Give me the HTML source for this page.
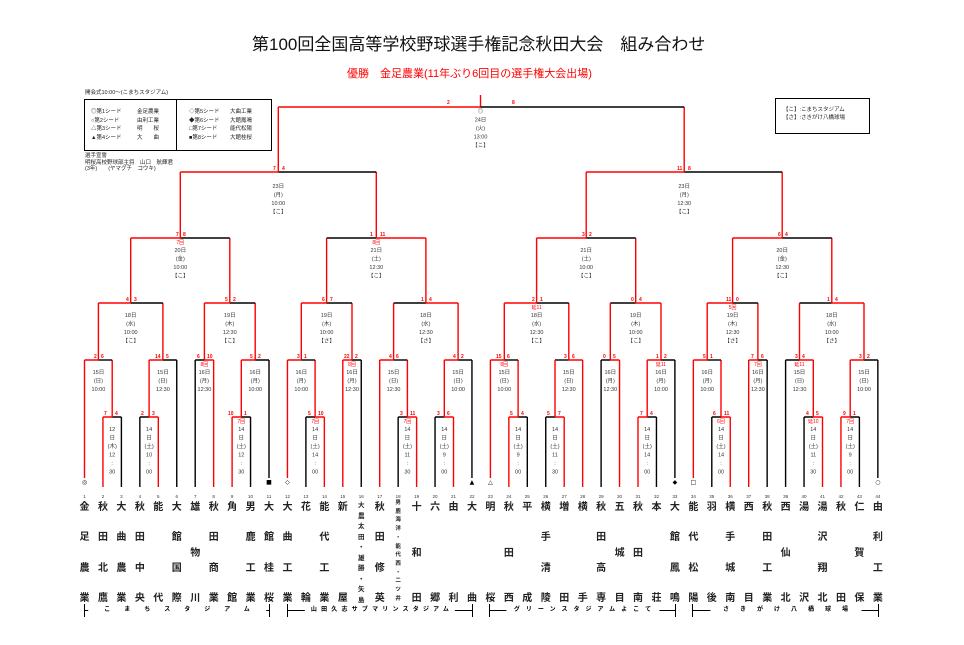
<!DOCTYPE html>
<html><head><meta charset="utf-8">
<style>
html,body{margin:0;padding:0;background:#fff;}
body{width:964px;height:645px;position:relative;overflow:hidden;font-family:"Liberation Sans","Noto Sans CJK JP",sans-serif;}
svg{position:absolute;left:0;top:0;}
.r{stroke:#f00;stroke-width:1.4;fill:none}
.k{stroke:#000;stroke-width:1.4;fill:none}
.d{font-size:5.5px;fill:#333;text-anchor:middle;font-family:"Liberation Sans","Noto Sans CJK JP",sans-serif}
.s{font-size:5px;fill:#f00;font-weight:bold;font-family:"Liberation Sans",sans-serif}
.n{font-size:4.5px;fill:#333;text-anchor:middle;font-family:"Liberation Sans",sans-serif}
.i{font-size:5px;fill:#f00;text-anchor:middle;font-family:"Liberation Sans","Noto Sans CJK JP",sans-serif}
.tm{position:absolute;top:503px;width:14px;height:101px;display:flex;flex-direction:column;justify-content:space-between;align-items:center;font-size:10px;line-height:10px;font-weight:bold;color:#222;}
.tm.sm{font-size:6.5px;line-height:7px;top:502px;height:102px}
.tm.xs{font-size:5.5px;line-height:6px;top:500px;height:102px}
.st{position:absolute;top:604px;height:13px;border-left:1px solid #000;border-right:1px solid #000;}
.st:before{content:"";position:absolute;left:0;right:0;top:6px;border-top:1px solid #000;}
.st span{position:absolute;left:50%;transform:translateX(-50%);top:2px;background:#fff;font-size:6px;line-height:9px;font-weight:bold;white-space:nowrap;padding:0 2px;}
.lg{position:absolute;font-size:5.5px;line-height:6px;color:#222;white-space:nowrap}
</style></head><body>

<div style="position:absolute;left:252px;top:35px;font-size:17px;line-height:20px;color:#111;white-space:nowrap">第100回全国高等学校野球選手権記念秋田大会　組み合わせ</div>
<div style="position:absolute;left:347px;top:68px;font-size:11px;line-height:13px;color:#f00;white-space:nowrap">優勝　金足農業(11年ぶり6回目の選手権大会出場)</div>

<div class="lg" style="left:85px;top:90px">開会式10:00～(こまちスタジアム)</div>
<div style="position:absolute;left:84px;top:99px;width:186px;height:50px;border:1px solid #000"></div>
<div style="position:absolute;left:176px;top:99px;height:51px;border-left:1px solid #000"></div>
<div class="lg" style="left:91px;top:108px;line-height:8.7px">◎第1シード<br>○第2シード<br>△第3シード<br>▲第4シード</div>
<div class="lg" style="left:137px;top:108px;line-height:8.7px">金足農業<br>由利工業<br>明　　桜<br>大　　曲</div>
<div class="lg" style="left:189px;top:108px;line-height:8.7px">◇第5シード<br>◆第6シード<br>□第7シード<br>■第8シード</div>
<div class="lg" style="left:230px;top:108px;line-height:8.7px">大曲工業<br>大館鳳鳴<br>能代松陽<br>大館桂桜</div>
<div class="lg" style="left:85px;top:153px;line-height:6.5px">選手宣誓<br>明桜高校野球部主将　山口　航輝君<br>(3年)　　(ヤマグチ　コウキ)</div>

<div style="position:absolute;left:775px;top:98px;width:93px;height:34px;border:1px solid #000"></div>
<div class="lg" style="left:783px;top:106px;line-height:8px">【こ】:こまちスタジアム<br>【さ】:さきがけ八橋球場</div>

<svg width="964" height="645" viewBox="0 0 964 645">
<!-- R1 -->
<path class="r" d="M102.95 417H112.2M102.95 417V487"/><path class="k" d="M112.2 417H121.4M121.4 417V487"/>
<path class="k" d="M139.85 417H149.1M139.85 417V487"/><path class="r" d="M149.1 417H158.3M158.3 417V487"/>
<path class="r" d="M232.1 417H241.3M232.1 417V487"/><path class="k" d="M241.3 417H250.55M250.55 417V487"/>
<path class="k" d="M305.9 417H315.1M305.9 417V487"/><path class="r" d="M315.1 417H324.35M324.35 417V487"/>
<path class="k" d="M398.15 417H407.4M398.15 417V487"/><path class="r" d="M407.4 417H416.6M416.6 417V487"/>
<path class="k" d="M435.05 417H444.3M435.05 417V487"/><path class="r" d="M444.3 417H453.5M453.5 417V487"/>
<path class="r" d="M508.85 417H518.1M508.85 417V487"/><path class="k" d="M518.1 417H527.3M527.3 417V487"/>
<path class="k" d="M545.75 417H555M545.75 417V487"/><path class="r" d="M555 417H564.2M564.2 417V487"/>
<path class="r" d="M638 417H647.2M638 417V487"/><path class="k" d="M647.2 417H656.45M656.45 417V487"/>
<path class="k" d="M711.8 417H721M711.8 417V487"/><path class="r" d="M721 417H730.25M730.25 417V487"/>
<path class="k" d="M804.05 417H813.3M804.05 417V487"/><path class="r" d="M813.3 417H822.5M822.5 417V487"/>
<path class="r" d="M840.95 417H850.2M840.95 417V487"/><path class="k" d="M850.2 417H859.4M859.4 417V487"/>
<!-- R2 -->
<path class="r" d="M84.5 360H98.4M84.5 360V478M112.2 360V417"/><path class="k" d="M98.4 360H112.2"/>
<path class="r" d="M149.1 360H162.9M149.1 360V417"/><path class="k" d="M162.9 360H176.75M176.75 360V487"/>
<path class="k" d="M195.2 360H204.4M195.2 360V487"/><path class="r" d="M204.4 360H213.65M213.65 360V487"/>
<path class="r" d="M241.3 360H255.2M241.3 360V417"/><path class="k" d="M255.2 360H269M269 360V478"/>
<path class="r" d="M287.45 360H301.3M287.45 360V478M315.1 360V417"/><path class="k" d="M301.3 360H315.1"/>
<path class="r" d="M342.8 360H352M342.8 360V487"/><path class="k" d="M352 360H361.25M361.25 360V487"/>
<path class="r" d="M379.7 360H393.6M379.7 360V487M407.4 360V417"/><path class="k" d="M393.6 360H407.4"/>
<path class="r" d="M444.3 360H458.1M444.3 360V417"/><path class="k" d="M458.1 360H471.95M471.95 360V478"/>
<path class="r" d="M490.4 360H504.3M490.4 360V478M518.1 360V417"/><path class="k" d="M504.3 360H518.1"/>
<path class="k" d="M555 360H568.8"/><path class="r" d="M555 360V417M568.8 360H582.65M582.65 360V487"/>
<path class="k" d="M601.1 360H610.3M601.1 360V487"/><path class="r" d="M610.3 360H619.55M619.55 360V487"/>
<path class="r" d="M647.2 360H661M647.2 360V417"/><path class="k" d="M661 360H674.9M674.9 360V478"/>
<path class="r" d="M693.35 360H707.2M693.35 360V478M721 360V417"/><path class="k" d="M707.2 360H721"/>
<path class="r" d="M748.7 360H757.9M748.7 360V487"/><path class="k" d="M757.9 360H767.15M767.15 360V487"/>
<path class="k" d="M785.6 360H799.5M785.6 360V487"/><path class="r" d="M799.5 360H813.3M813.3 360V417"/>
<path class="r" d="M850.2 360H864M850.2 360V417"/><path class="k" d="M864 360H877.85M877.85 360V478"/>
<!-- R3 -->
<path class="r" d="M98.4 303H130.7M98.4 303V360M162.9 303V360"/><path class="k" d="M130.7 303H162.9"/>
<path class="r" d="M204.4 303H229.8M204.4 303V360M255.2 303V360"/><path class="k" d="M229.8 303H255.2"/>
<path class="r" d="M301.3 303H326.6M301.3 303V360M352 303V360"/><path class="k" d="M326.6 303H352"/>
<path class="k" d="M393.6 303H425.9"/><path class="r" d="M425.9 303H458.1M393.6 303V360M458.1 303V360"/>
<path class="r" d="M504.3 303H536.6M504.3 303V360M568.8 303V360"/><path class="k" d="M536.6 303H568.8"/>
<path class="k" d="M610.3 303H635.7"/><path class="r" d="M635.7 303H661M610.3 303V360M661 303V360"/>
<path class="r" d="M707.2 303H732.6M707.2 303V360M757.9 303V360"/><path class="k" d="M732.6 303H757.9"/>
<path class="k" d="M799.5 303H831.8"/><path class="r" d="M831.8 303H864M799.5 303V360M864 303V360"/>
<!-- R4 -->
<path class="r" d="M130.7 238H180.3M130.7 238V303M229.8 238V303"/><path class="k" d="M180.3 238H229.8"/>
<path class="k" d="M326.6 238H376.3"/><path class="r" d="M376.3 238H425.9M326.6 238V303M425.9 238V303"/>
<path class="r" d="M536.6 238H586.2M536.6 238V303M635.7 238V303"/><path class="k" d="M586.2 238H635.7"/>
<path class="r" d="M732.6 238H782.2M732.6 238V303M831.8 238V303"/><path class="k" d="M782.2 238H831.8"/>
<!-- Semi -->
<path class="r" d="M180.3 172H278.3M180.3 172V238M376.3 172V238"/><path class="k" d="M278.3 172H376.3"/>
<path class="r" d="M586.2 172H684.2M586.2 172V238M782.2 172V238"/><path class="k" d="M684.2 172H782.2"/>
<!-- Final -->
<path class="r" d="M278.3 107H480.5M278.3 107V172M684.2 107V172M480.5 95V107"/><path class="k" d="M480.5 107H684.2"/>

<!-- seed symbols -->
<g font-size="6" text-anchor="middle" font-family="DejaVu Sans,sans-serif">
<text x="84.5" y="484">◎</text><text x="269" y="484">■</text><text x="287.45" y="484">◇</text><text x="471.95" y="484">▲</text>
<text x="490.4" y="484">△</text><text x="674.9" y="484">◆</text><text x="693.35" y="484">□</text><text x="877.85" y="484">○</text>
</g>

<!-- scores -->
<g class="s">
<text x="104" y="415">7</text><text x="115" y="415">4</text>
<text x="141" y="415">2</text><text x="152" y="415">3</text>
<text x="228" y="415">10</text><text x="244" y="415">1</text>
<text x="308" y="415">5</text><text x="318" y="415">10</text>
<text x="400" y="415">3</text><text x="410" y="415">11</text>
<text x="437" y="415">3</text><text x="447" y="415">6</text>
<text x="510" y="415">5</text><text x="521" y="415">4</text>
<text x="547" y="415">5</text><text x="558" y="415">7</text>
<text x="640" y="415">7</text><text x="650" y="415">4</text>
<text x="713" y="415">6</text><text x="724" y="415">11</text>
<text x="806" y="415">4</text><text x="816" y="415">5</text>
<text x="843" y="415">9</text><text x="853" y="415">1</text>
<text x="94" y="358">2</text><text x="101" y="358">6</text>
<text x="155" y="358">14</text><text x="166" y="358">5</text>
<text x="197" y="358">6</text><text x="207" y="358">10</text>
<text x="250" y="358">5</text><text x="258" y="358">2</text>
<text x="297" y="358">3</text><text x="304" y="358">1</text>
<text x="344" y="358">22</text><text x="355" y="358">2</text>
<text x="389" y="358">4</text><text x="396" y="358">6</text>
<text x="453" y="358">4</text><text x="461" y="358">2</text>
<text x="496" y="358">15</text><text x="507" y="358">6</text>
<text x="564" y="358">3</text><text x="572" y="358">6</text>
<text x="603" y="358">0</text><text x="613" y="358">5</text>
<text x="656" y="358">1</text><text x="664" y="358">2</text>
<text x="703" y="358">5</text><text x="710" y="358">1</text>
<text x="751" y="358">7</text><text x="761" y="358">6</text>
<text x="795" y="358">3</text><text x="802" y="358">4</text>
<text x="859" y="358">3</text><text x="867" y="358">2</text>
<text x="126" y="301">4</text><text x="134" y="301">3</text>
<text x="225" y="301">5</text><text x="233" y="301">2</text>
<text x="322" y="301">6</text><text x="330" y="301">7</text>
<text x="421" y="301">1</text><text x="429" y="301">4</text>
<text x="532" y="301">2</text><text x="540" y="301">1</text>
<text x="631" y="301">0</text><text x="639" y="301">4</text>
<text x="726" y="301">11</text><text x="736" y="301">0</text>
<text x="827" y="301">1</text><text x="835" y="301">4</text>
<text x="176" y="236">7</text><text x="183" y="236">8</text>
<text x="370" y="236">1</text><text x="380" y="236">11</text>
<text x="582" y="236">3</text><text x="589" y="236">2</text>
<text x="778" y="236">6</text><text x="785" y="236">4</text>
<text x="273" y="170">7</text><text x="282" y="170">4</text>
<text x="677" y="170">11</text><text x="688" y="170">8</text>
<text x="447" y="104">2</text><text x="512" y="104">8</text>
</g>

<!-- inning notes -->
<g class="i">
<text x="241.3" y="423">7回</text><text x="315.1" y="423">7回</text><text x="407.4" y="423">7回</text>
<text x="721" y="423">6回</text><text x="813.3" y="423">延10</text><text x="850.2" y="423">7回</text>
<text x="204.4" y="366">8回</text><text x="352" y="366">8回</text><text x="504.3" y="366">8回</text>
<text x="661" y="366">延11</text><text x="757.9" y="366">7回</text><text x="799.5" y="366">延11</text>
<text x="536.6" y="309">延11</text><text x="732.6" y="309">5回</text>
<text x="180.3" y="244">7回</text><text x="376.3" y="244">8回</text>
</g>

<!-- R1 date blocks -->
<g class="d">
<text><tspan x="112.2" y="431">12</tspan><tspan x="112.2" y="439.5">日</tspan><tspan x="112.2" y="448">(木)</tspan><tspan x="112.2" y="456.5">12</tspan><tspan x="112.2" y="465">:</tspan><tspan x="112.2" y="473.5">30</tspan></text>
<text><tspan x="149.1" y="431">14</tspan><tspan x="149.1" y="439.5">日</tspan><tspan x="149.1" y="448">(土)</tspan><tspan x="149.1" y="456.5">10</tspan><tspan x="149.1" y="465">:</tspan><tspan x="149.1" y="473.5">00</tspan></text>
<text><tspan x="241.3" y="431">14</tspan><tspan x="241.3" y="439.5">日</tspan><tspan x="241.3" y="448">(土)</tspan><tspan x="241.3" y="456.5">12</tspan><tspan x="241.3" y="465">:</tspan><tspan x="241.3" y="473.5">30</tspan></text>
<text><tspan x="315.1" y="431">14</tspan><tspan x="315.1" y="439.5">日</tspan><tspan x="315.1" y="448">(土)</tspan><tspan x="315.1" y="456.5">14</tspan><tspan x="315.1" y="465">:</tspan><tspan x="315.1" y="473.5">00</tspan></text>
<text><tspan x="407.4" y="431">14</tspan><tspan x="407.4" y="439.5">日</tspan><tspan x="407.4" y="448">(土)</tspan><tspan x="407.4" y="456.5">11</tspan><tspan x="407.4" y="465">:</tspan><tspan x="407.4" y="473.5">30</tspan></text>
<text><tspan x="444.3" y="431">14</tspan><tspan x="444.3" y="439.5">日</tspan><tspan x="444.3" y="448">(土)</tspan><tspan x="444.3" y="456.5">9</tspan><tspan x="444.3" y="465">:</tspan><tspan x="444.3" y="473.5">00</tspan></text>
<text><tspan x="518.1" y="431">14</tspan><tspan x="518.1" y="439.5">日</tspan><tspan x="518.1" y="448">(土)</tspan><tspan x="518.1" y="456.5">9</tspan><tspan x="518.1" y="465">:</tspan><tspan x="518.1" y="473.5">00</tspan></text>
<text><tspan x="555" y="431">14</tspan><tspan x="555" y="439.5">日</tspan><tspan x="555" y="448">(土)</tspan><tspan x="555" y="456.5">11</tspan><tspan x="555" y="465">:</tspan><tspan x="555" y="473.5">30</tspan></text>
<text><tspan x="647.2" y="431">14</tspan><tspan x="647.2" y="439.5">日</tspan><tspan x="647.2" y="448">(土)</tspan><tspan x="647.2" y="456.5">14</tspan><tspan x="647.2" y="465">:</tspan><tspan x="647.2" y="473.5">00</tspan></text>
<text><tspan x="721" y="431">14</tspan><tspan x="721" y="439.5">日</tspan><tspan x="721" y="448">(土)</tspan><tspan x="721" y="456.5">14</tspan><tspan x="721" y="465">:</tspan><tspan x="721" y="473.5">00</tspan></text>
<text><tspan x="813.3" y="431">14</tspan><tspan x="813.3" y="439.5">日</tspan><tspan x="813.3" y="448">(土)</tspan><tspan x="813.3" y="456.5">11</tspan><tspan x="813.3" y="465">:</tspan><tspan x="813.3" y="473.5">30</tspan></text>
<text><tspan x="850.2" y="431">14</tspan><tspan x="850.2" y="439.5">日</tspan><tspan x="850.2" y="448">(土)</tspan><tspan x="850.2" y="456.5">9</tspan><tspan x="850.2" y="465">:</tspan><tspan x="850.2" y="473.5">00</tspan></text>
<!-- R2 -->
<text><tspan x="98.4" y="374">15日</tspan><tspan x="98.4" y="382.5">(日)</tspan><tspan x="98.4" y="391">10:00</tspan></text>
<text><tspan x="162.9" y="374">15日</tspan><tspan x="162.9" y="382.5">(日)</tspan><tspan x="162.9" y="391">12:30</tspan></text>
<text><tspan x="204.4" y="374">16日</tspan><tspan x="204.4" y="382.5">(月)</tspan><tspan x="204.4" y="391">12:30</tspan></text>
<text><tspan x="255.2" y="374">16日</tspan><tspan x="255.2" y="382.5">(月)</tspan><tspan x="255.2" y="391">10:00</tspan></text>
<text><tspan x="301.3" y="374">16日</tspan><tspan x="301.3" y="382.5">(月)</tspan><tspan x="301.3" y="391">10:00</tspan></text>
<text><tspan x="352" y="374">16日</tspan><tspan x="352" y="382.5">(月)</tspan><tspan x="352" y="391">12:30</tspan></text>
<text><tspan x="393.6" y="374">15日</tspan><tspan x="393.6" y="382.5">(日)</tspan><tspan x="393.6" y="391">12:30</tspan></text>
<text><tspan x="458.1" y="374">15日</tspan><tspan x="458.1" y="382.5">(日)</tspan><tspan x="458.1" y="391">10:00</tspan></text>
<text><tspan x="504.3" y="374">15日</tspan><tspan x="504.3" y="382.5">(日)</tspan><tspan x="504.3" y="391">10:00</tspan></text>
<text><tspan x="568.8" y="374">15日</tspan><tspan x="568.8" y="382.5">(日)</tspan><tspan x="568.8" y="391">12:30</tspan></text>
<text><tspan x="610.3" y="374">16日</tspan><tspan x="610.3" y="382.5">(月)</tspan><tspan x="610.3" y="391">12:30</tspan></text>
<text><tspan x="661" y="374">16日</tspan><tspan x="661" y="382.5">(月)</tspan><tspan x="661" y="391">10:00</tspan></text>
<text><tspan x="707.2" y="374">16日</tspan><tspan x="707.2" y="382.5">(月)</tspan><tspan x="707.2" y="391">10:00</tspan></text>
<text><tspan x="757.9" y="374">16日</tspan><tspan x="757.9" y="382.5">(月)</tspan><tspan x="757.9" y="391">12:30</tspan></text>
<text><tspan x="799.5" y="374">15日</tspan><tspan x="799.5" y="382.5">(日)</tspan><tspan x="799.5" y="391">12:30</tspan></text>
<text><tspan x="864" y="374">15日</tspan><tspan x="864" y="382.5">(日)</tspan><tspan x="864" y="391">10:00</tspan></text>
<!-- R3 -->
<text><tspan x="130.7" y="317">18日</tspan><tspan x="130.7" y="325.5">(水)</tspan><tspan x="130.7" y="334">10:00</tspan><tspan x="130.7" y="342.5">【こ】</tspan></text>
<text><tspan x="229.8" y="317">19日</tspan><tspan x="229.8" y="325.5">(木)</tspan><tspan x="229.8" y="334">12:30</tspan><tspan x="229.8" y="342.5">【こ】</tspan></text>
<text><tspan x="326.6" y="317">19日</tspan><tspan x="326.6" y="325.5">(木)</tspan><tspan x="326.6" y="334">10:00</tspan><tspan x="326.6" y="342.5">【さ】</tspan></text>
<text><tspan x="425.9" y="317">18日</tspan><tspan x="425.9" y="325.5">(水)</tspan><tspan x="425.9" y="334">12:30</tspan><tspan x="425.9" y="342.5">【さ】</tspan></text>
<text><tspan x="536.6" y="317">18日</tspan><tspan x="536.6" y="325.5">(水)</tspan><tspan x="536.6" y="334">12:30</tspan><tspan x="536.6" y="342.5">【こ】</tspan></text>
<text><tspan x="635.7" y="317">19日</tspan><tspan x="635.7" y="325.5">(木)</tspan><tspan x="635.7" y="334">10:00</tspan><tspan x="635.7" y="342.5">【こ】</tspan></text>
<text><tspan x="732.6" y="317">19日</tspan><tspan x="732.6" y="325.5">(木)</tspan><tspan x="732.6" y="334">12:30</tspan><tspan x="732.6" y="342.5">【さ】</tspan></text>
<text><tspan x="831.8" y="317">18日</tspan><tspan x="831.8" y="325.5">(水)</tspan><tspan x="831.8" y="334">10:00</tspan><tspan x="831.8" y="342.5">【さ】</tspan></text>
<!-- R4 -->
<text><tspan x="180.3" y="252">20日</tspan><tspan x="180.3" y="260.5">(金)</tspan><tspan x="180.3" y="269">10:00</tspan><tspan x="180.3" y="277.5">【こ】</tspan></text>
<text><tspan x="376.3" y="252">21日</tspan><tspan x="376.3" y="260.5">(土)</tspan><tspan x="376.3" y="269">12:30</tspan><tspan x="376.3" y="277.5">【こ】</tspan></text>
<text><tspan x="586.2" y="252">21日</tspan><tspan x="586.2" y="260.5">(土)</tspan><tspan x="586.2" y="269">10:00</tspan><tspan x="586.2" y="277.5">【こ】</tspan></text>
<text><tspan x="782.2" y="252">20日</tspan><tspan x="782.2" y="260.5">(金)</tspan><tspan x="782.2" y="269">12:30</tspan><tspan x="782.2" y="277.5">【こ】</tspan></text>
<!-- Semi -->
<text><tspan x="278.3" y="188">23日</tspan><tspan x="278.3" y="196.5">(月)</tspan><tspan x="278.3" y="205">10:00</tspan><tspan x="278.3" y="213.5">【こ】</tspan></text>
<text><tspan x="684.2" y="188">23日</tspan><tspan x="684.2" y="196.5">(月)</tspan><tspan x="684.2" y="205">12:30</tspan><tspan x="684.2" y="213.5">【こ】</tspan></text>
<!-- Final -->
<text><tspan x="480.5" y="113">◎</tspan><tspan x="480.5" y="121.5">24日</tspan><tspan x="480.5" y="130">(火)</tspan><tspan x="480.5" y="138.5">13:00</tspan><tspan x="480.5" y="147">【こ】</tspan></text>
</g>

<!-- team numbers -->
<g class="n">
<text x="84.5" y="498">1</text><text x="102.95" y="498">2</text><text x="121.4" y="498">3</text><text x="139.85" y="498">4</text><text x="158.3" y="498">5</text><text x="176.75" y="498">6</text><text x="195.2" y="498">7</text><text x="213.65" y="498">8</text><text x="232.1" y="498">9</text><text x="250.55" y="498">10</text><text x="269" y="498">11</text>
<text x="287.45" y="498">12</text><text x="305.9" y="498">13</text><text x="324.35" y="498">14</text><text x="342.8" y="498">15</text><text x="361.25" y="498">16</text><text x="379.7" y="498">17</text><text x="398.15" y="498">18</text><text x="416.6" y="498">19</text><text x="435.05" y="498">20</text><text x="453.5" y="498">21</text><text x="471.95" y="498">22</text>
<text x="490.4" y="498">23</text><text x="508.85" y="498">24</text><text x="527.3" y="498">25</text><text x="545.75" y="498">26</text><text x="564.2" y="498">27</text><text x="582.65" y="498">28</text><text x="601.1" y="498">29</text><text x="619.55" y="498">30</text><text x="638" y="498">31</text><text x="656.45" y="498">32</text><text x="674.9" y="498">33</text>
<text x="693.35" y="498">34</text><text x="711.8" y="498">35</text><text x="730.25" y="498">36</text><text x="748.7" y="498">37</text><text x="767.15" y="498">38</text><text x="785.6" y="498">39</text><text x="804.05" y="498">40</text><text x="822.5" y="498">41</text><text x="840.95" y="498">42</text><text x="859.4" y="498">43</text><text x="877.85" y="498">44</text>
</g>
</svg>

<!-- team names -->
<div class="tm" style="left:77.5px"><span>金</span><span>足</span><span>農</span><span>業</span></div>
<div class="tm" style="left:96px"><span>秋</span><span>田</span><span>北</span><span>鷹</span></div>
<div class="tm" style="left:114.4px"><span>大</span><span>曲</span><span>農</span><span>業</span></div>
<div class="tm" style="left:132.9px"><span>秋</span><span>田</span><span>中</span><span>央</span></div>
<div class="tm" style="left:151.3px"><span>能</span><span>代</span></div>
<div class="tm" style="left:169.8px"><span>大</span><span>館</span><span>国</span><span>際</span></div>
<div class="tm" style="left:188.2px"><span>雄</span><span>物</span><span>川</span></div>
<div class="tm" style="left:206.7px"><span>秋</span><span>田</span><span>商</span><span>業</span></div>
<div class="tm" style="left:225.1px"><span>角</span><span>館</span></div>
<div class="tm" style="left:243.6px"><span>男</span><span>鹿</span><span>工</span><span>業</span></div>
<div class="tm" style="left:262px"><span>大</span><span>館</span><span>桂</span><span>桜</span></div>
<div class="tm" style="left:280.5px"><span>大</span><span>曲</span><span>工</span><span>業</span></div>
<div class="tm" style="left:298.9px"><span>花</span><span>輪</span></div>
<div class="tm" style="left:317.4px"><span>能</span><span>代</span><span>工</span><span>業</span></div>
<div class="tm" style="left:335.8px"><span>新</span><span>屋</span></div>
<div class="tm sm" style="left:354.3px"><span>大</span><span>農</span><span>太</span><span>田</span><span>・</span><span>雄</span><span>勝</span><span>・</span><span>矢</span><span>島</span></div>
<div class="tm" style="left:372.7px"><span>秋</span><span>田</span><span>修</span><span>英</span></div>
<div class="tm xs" style="left:391.2px"><span>男</span><span>鹿</span><span>海</span><span>洋</span><span>・</span><span>能</span><span>代</span><span>西</span><span>・</span><span>二</span><span>ツ</span><span>井</span></div>
<div class="tm" style="left:409.6px"><span>十</span><span>和</span><span>田</span></div>
<div class="tm" style="left:428.1px"><span>六</span><span>郷</span></div>
<div class="tm" style="left:446.5px"><span>由</span><span>利</span></div>
<div class="tm" style="left:465px"><span>大</span><span>曲</span></div>
<div class="tm" style="left:483.4px"><span>明</span><span>桜</span></div>
<div class="tm" style="left:501.9px"><span>秋</span><span>田</span><span>西</span></div>
<div class="tm" style="left:520.3px"><span>平</span><span>成</span></div>
<div class="tm" style="left:538.8px"><span>横</span><span>手</span><span>清</span><span>陵</span></div>
<div class="tm" style="left:557.2px"><span>増</span><span>田</span></div>
<div class="tm" style="left:575.7px"><span>横</span><span>手</span></div>
<div class="tm" style="left:594.1px"><span>秋</span><span>田</span><span>高</span><span>専</span></div>
<div class="tm" style="left:612.6px"><span>五</span><span>城</span><span>目</span></div>
<div class="tm" style="left:631px"><span>秋</span><span>田</span><span>南</span></div>
<div class="tm" style="left:649.5px"><span>本</span><span>荘</span></div>
<div class="tm" style="left:667.9px"><span>大</span><span>館</span><span>鳳</span><span>鳴</span></div>
<div class="tm" style="left:686.4px"><span>能</span><span>代</span><span>松</span><span>陽</span></div>
<div class="tm" style="left:704.8px"><span>羽</span><span>後</span></div>
<div class="tm" style="left:723.3px"><span>横</span><span>手</span><span>城</span><span>南</span></div>
<div class="tm" style="left:741.7px"><span>西</span><span>目</span></div>
<div class="tm" style="left:760.2px"><span>秋</span><span>田</span><span>工</span><span>業</span></div>
<div class="tm" style="left:778.6px"><span>西</span><span>仙</span><span>北</span></div>
<div class="tm" style="left:797.1px"><span>湯</span><span>沢</span></div>
<div class="tm" style="left:815.5px"><span>湯</span><span>沢</span><span>翔</span><span>北</span></div>
<div class="tm" style="left:834px"><span>秋</span><span>田</span></div>
<div class="tm" style="left:852.4px"><span>仁</span><span>賀</span><span>保</span></div>
<div class="tm" style="left:870.9px"><span>由</span><span>利</span><span>工</span><span>業</span></div>

<!-- stadiums -->
<div class="st" style="left:84px;width:184px"><span style="letter-spacing:14px;padding-left:16px">こまちスタジアム</span></div>
<div class="st" style="left:287px;width:184px"><span style="letter-spacing:4.2px;padding-left:6px">山田久志サブマリンスタジアム</span></div>
<div class="st" style="left:489px;width:185px"><span style="letter-spacing:6px;padding-left:8px">グリーンスタジアムよこて</span></div>
<div class="st" style="left:692px;width:185px"><span style="letter-spacing:11px;padding-left:13px">さきがけ八橋球場</span></div>

</body></html>
